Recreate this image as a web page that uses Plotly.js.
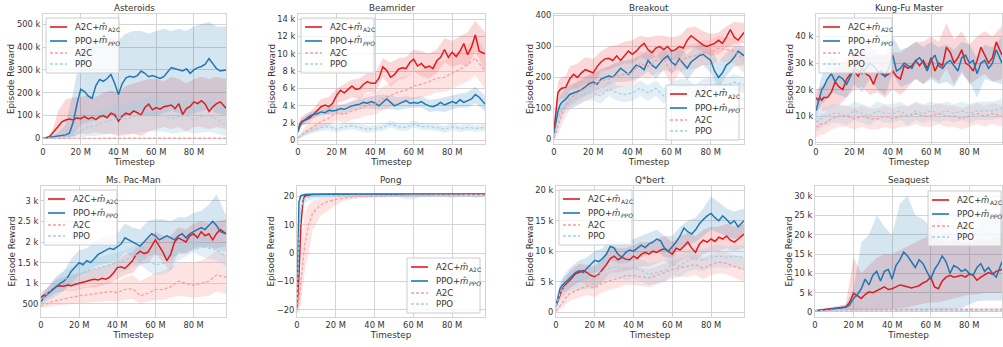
<!DOCTYPE html>
<html><head><meta charset="utf-8">
<script src="https://cdn.plot.ly/plotly-3.0.1.min.js"></script>
<style>html,body{margin:0;padding:0;background:#fff;} #chart{width:1003px;height:347px;}</style>
</head><body><div id="chart"></div>
<script>
// ---------------- DATA ----------------
const X_FINE = [0,1,2,3,4,6,8,10,12,14,16,18,20,22,24,26,28,30,32,34,36,38,40,42,44,46,48,50,52,54,56,58,60,62,64,66,68,70,72,74,76,78,80,82,84,86,88,90,92,94,97];
const X_COARSE = [0,1,2,3,4,6,8,12,16,20,24,28,32,36,40,44,48,52,56,60,64,68,72,76,80,84,88,92,97];
const X_TICKS = [0,20,40,60,80];
const X_TICK_LABELS = ['0','20 M','40 M','60 M','80 M'];
const GAME_TITLES = ['Asteroids','Beamrider','Breakout','Kung-Fu Master','Ms. Pac-Man','Pong','Q*bert','Seaquest'];
// legend labels: main part, italic hatted symbol, subscript
const SERIES_LABEL_MAIN = ['A2C+','PPO+','A2C','PPO'];
const SERIES_LABEL_HAT = ['m\u0302','m\u0302','',''];
const SERIES_LABEL_SUB = ['A2C','PPO','',''];

// Asteroids (thousands)
const asteroids_a2cm = [0,1,3,6,12,30,52,72,80,84,80,90,86,95,85,92,82,95,100,90,110,104,74,98,110,104,120,112,102,135,150,125,135,128,138,142,146,130,152,104,130,140,160,152,165,150,118,138,152,160,132];
const asteroids_ppom = [0,1,2,3,4,7,10,12,15,22,70,150,215,205,185,175,230,258,250,262,280,240,192,240,265,272,268,275,295,285,270,275,268,262,270,290,310,305,300,295,305,285,300,310,315,325,350,330,305,295,300];
const asteroids_a2cm_hi = [1,2,5,10,20,60,120,170,180,180,190,180,200,210,200,230,240,250,260,260,250,270,260,240,260,270,260,270,260];
const asteroids_a2cm_lo = [0,0,0,0,0,2,5,5,8,20,20,25,20,20,10,15,20,10,30,40,50,40,50,30,50,50,40,50,40];
const asteroids_ppom_hi = [2,3,5,8,10,15,25,60,200,380,420,440,440,450,430,460,470,470,460,470,480,470,480,470,490,500,510,490,490];
const asteroids_ppom_lo = [0,0,0,0,0,2,4,5,10,60,70,80,90,100,80,100,110,110,100,100,110,120,110,100,110,120,130,110,100];
const asteroids_a2c = [0,0,0,0,0,0,1,1,1,1,1,1,1,1,1,1,1,1,1,1,1,1,1,1,1,1,1,1,1];
const asteroids_a2c_hi = [0,0,1,1,1,1,2,3,3,3,3,3,3,3,3,3,3,3,3,3,3,3,3,3,3,3,3,3,3];
const asteroids_a2c_lo = [0,0,0,0,0,0,0,0,0,0,0,0,0,0,0,0,0,0,0,0,0,0,0,0,0,0,0,0,0];
const asteroids_ppo = [0,0,0,1,1,2,3,5,10,30,50,55,70,80,90,85,95,100,110,110,100,85,95,100,80,95,100,85,55];
const asteroids_ppo_hi = [0,1,1,2,3,5,8,15,30,70,100,110,130,140,150,150,160,170,180,180,170,160,170,170,160,170,170,160,130];
const asteroids_ppo_lo = [0,0,0,0,0,0,0,0,0,5,10,10,15,20,20,20,20,25,30,30,30,20,25,30,20,25,30,20,10];
const ASTEROIDS_Y_TICKS = [0,100,200,300,400,500];
const ASTEROIDS_Y_LABELS = ['0','100 k','200 k','300 k','400 k','500 k'];

// Beamrider (thousands)
const beamrider_a2cm = [1.2,1.9,2.2,2.3,2.4,2.6,3.0,3.5,3.9,4.1,3.9,4.3,5.2,5.8,5.5,5.9,6.3,5.9,6.0,6.5,6.8,6.6,6.6,7.2,8.5,8.1,7.3,7.6,8.2,8.4,8.3,9.0,9.4,8.6,8.9,8.4,8.6,8.3,9.2,9.6,10.5,9.6,10.2,9.7,10.3,11.2,9.9,10.8,12.2,10.3,10.0];
const beamrider_ppom = [1.0,1.7,2.1,2.3,2.5,2.8,3.0,3.1,3.3,3.2,3.5,3.4,3.5,3.7,3.6,3.8,4.0,4.1,4.2,4.4,4.3,4.5,4.3,4.0,4.4,4.8,4.4,4.0,4.2,4.4,4.6,4.3,4.4,4.3,4.5,4.2,4.0,3.9,4.1,4.4,4.1,4.3,4.5,4.3,4.7,4.4,4.6,4.8,5.3,5.0,4.2];
const beamrider_a2cm_hi = [1.6,2.5,2.8,3.0,3.1,3.3,3.7,4.8,5.0,6.0,6.5,7.0,7.2,7.8,7.8,9.5,9.0,9.5,9.6,10.5,10.3,10.0,10.5,11.8,11.5,12.0,12.5,13.8,12.5];
const beamrider_a2cm_lo = [0.8,1.4,1.7,1.8,1.8,2.0,2.4,3.2,3.0,4.3,4.6,5.0,4.8,5.6,5.5,7.3,6.2,7.0,7.2,8.0,7.4,7.2,7.8,9.0,8.5,8.8,8.5,10.3,8.0];
const beamrider_ppom_hi = [1.3,2.1,2.5,2.7,2.9,3.2,3.4,3.7,3.9,4.0,4.2,4.5,4.8,5.0,5.2,5.3,5.2,5.0,5.1,5.0,5.1,4.7,4.8,5.0,5.2,5.4,5.6,6.2,5.2];
const beamrider_ppom_lo = [0.7,1.3,1.7,1.9,2.1,2.4,2.6,2.9,3.0,3.0,3.1,3.5,3.6,3.7,3.6,3.6,3.6,3.5,3.7,3.8,3.8,3.3,3.4,3.3,3.6,3.8,3.8,4.3,3.4];
const beamrider_a2c = [0.3,0.5,0.7,0.9,1.0,1.3,1.6,2.2,2.6,3.2,3.0,3.4,3.7,4.1,4.2,4.8,5.2,5.6,5.8,6.3,6.5,6.8,7.2,7.3,7.8,8.2,8.8,9.5,8.0];
const beamrider_a2c_hi = [0.5,0.8,1.1,1.4,1.6,2.0,2.4,3.2,3.6,4.2,4.2,4.6,5.0,5.4,5.6,6.2,6.6,7.2,7.4,8.0,8.2,8.6,9.0,9.2,9.8,10.2,11.0,12.0,10.5];
const beamrider_a2c_lo = [0.1,0.3,0.4,0.5,0.6,0.8,1.0,1.4,1.8,2.3,2.0,2.4,2.6,2.9,3.0,3.5,3.9,4.2,4.4,4.8,5.0,5.2,5.6,5.6,6.0,6.4,6.8,7.5,6.0];
const beamrider_ppo = [0.3,0.5,0.6,0.8,0.9,1.1,1.3,1.5,1.6,1.3,1.6,1.7,1.5,1.3,1.4,1.5,1.9,1.6,1.5,1.9,1.6,1.6,1.5,1.3,1.6,1.4,1.5,1.4,1.5];
const beamrider_ppo_hi = [0.4,0.7,0.8,1.0,1.2,1.4,1.7,1.9,2.0,1.7,2.0,2.1,1.9,1.7,1.8,1.9,2.3,2.0,1.9,2.3,2.0,2.0,1.9,1.7,2.0,1.8,1.9,1.8,1.9];
const beamrider_ppo_lo = [0.2,0.3,0.4,0.6,0.6,0.8,0.9,1.1,1.2,0.9,1.2,1.3,1.1,0.9,1.0,1.1,1.5,1.2,1.1,1.5,1.2,1.2,1.1,0.9,1.2,1.0,1.1,1.0,1.1];
const BEAMRIDER_Y_TICKS = [0,2,4,6,8,10,12,14];
const BEAMRIDER_Y_LABELS = ['0','2 k','4 k','6 k','8 k','10 k','12 k','14 k'];

// Breakout
const breakout_a2cm = [30,90,150,160,165,168,195,210,200,215,225,220,215,235,250,260,262,255,270,255,270,285,275,285,300,310,290,280,295,300,290,300,285,290,300,295,320,335,325,315,305,300,305,310,320,310,330,355,330,320,345];
const breakout_ppom = [20,60,90,110,120,130,145,150,155,160,170,180,185,178,195,200,205,200,215,230,220,210,225,240,235,225,255,240,230,245,260,270,250,240,260,245,230,250,260,270,275,265,255,220,200,215,240,250,265,285,270];
const breakout_a2cm_hi = [45,120,185,195,200,205,235,245,265,260,285,300,305,315,320,335,330,335,335,330,335,360,365,350,340,345,365,380,375];
const breakout_a2cm_lo = [15,60,115,125,130,135,160,165,180,175,220,225,235,245,245,265,255,265,260,255,260,290,295,280,270,275,295,310,310];
const breakout_ppom_hi = [30,80,115,140,150,165,175,185,200,215,225,235,250,255,260,270,290,265,295,285,295,275,300,310,295,250,280,300,300];
const breakout_ppom_lo = [10,40,65,80,90,100,110,125,140,155,165,175,185,185,190,200,220,195,225,215,225,190,225,240,215,165,205,235,240];
const breakout_a2c = [5,20,40,60,80,110,130,150,165,175,190,195,205,210,215,245,235,255,260,215,255,265,270,280,280,295,290,285,255];
const breakout_a2c_hi = [10,40,70,95,115,145,165,190,205,215,230,235,245,250,255,285,275,295,300,255,295,305,310,320,320,335,330,325,295];
const breakout_a2c_lo = [0,5,15,30,45,75,95,110,125,135,150,155,165,170,175,205,195,215,220,175,215,225,230,240,240,255,250,245,215];
const breakout_ppo = [10,40,65,80,95,110,120,135,150,150,140,165,150,145,150,165,150,165,140,160,170,170,150,170,175,180,175,185,175];
const breakout_ppo_hi = [20,60,85,100,115,130,145,160,175,175,165,190,175,170,175,190,175,190,165,185,195,195,175,195,200,205,200,210,200];
const breakout_ppo_lo = [0,20,45,60,75,90,95,110,125,125,115,140,125,120,125,140,125,140,115,135,145,145,125,145,150,155,150,160,150];
const BREAKOUT_Y_TICKS = [0,100,200,300,400];
const BREAKOUT_Y_LABELS = ['0','100','200','300','400'];

// Kung-Fu Master (thousands)
const kungfu_a2cm = [17,16,17,16,17,17,19,23,21,20,24,26,27,25,28,26,25,22,26,27,25,26,27,25,24,29,28,29,31,29,31,28,32,27,30,29,36,34,30,32,35,30,29,27,31,36,33,30,32,38,33];
const kungfu_ppom = [12,15,18,20,21,24,26,23,25,24,22,25,28,27,26,28,30,29,27,26,25,28,33,27,28,30,29,28,31,32,30,27,31,33,29,28,30,31,29,27,32,33,30,31,26,30,31,28,30,35,30];
const kungfu_a2cm_hi = [20,20,21,21,22,23,26,29,32,34,35,32,33,33,34,34,36,38,38,40,38,45,39,42,37,40,42,40,44];
const kungfu_a2cm_lo = [13,12,13,12,12,12,13,14,17,20,21,18,19,17,20,18,21,24,22,25,23,28,22,27,22,24,26,23,24];
const kungfu_ppom_hi = [15,19,23,25,27,30,33,30,28,34,33,37,33,33,40,35,36,38,36,38,36,37,35,38,37,32,37,36,40];
const kungfu_ppom_lo = [9,11,13,15,15,17,19,18,17,22,19,24,20,18,26,21,22,24,22,24,22,23,21,26,23,17,24,23,22];
const kungfu_a2c = [6,6,7,7,7,8,9,10,10,9,10,9,9,10,9,10,10,11,10,10,11,10,10,9,10,11,10,11,10];
const kungfu_a2c_hi = [10,10,11,11,11,12,13,14,14,13,14,13,13,14,13,14,14,15,14,14,15,14,14,13,14,15,14,15,14];
const kungfu_a2c_lo = [2,2,3,3,3,4,5,6,6,5,6,5,5,6,5,6,6,7,6,6,7,6,6,5,6,7,6,7,6];
const kungfu_ppo = [8,8,9,9,10,10,11,11,10,12,11,10,12,11,11,12,10,12,11,12,11,12,11,12,11,12,12,12,13];
const kungfu_ppo_hi = [11.5,11.5,12.5,12.5,13.5,13.5,14.5,14.5,13.5,15.5,14.5,13.5,15.5,14.5,14.5,15.5,13.5,15.5,14.5,15.5,14.5,15.5,14.5,15.5,14.5,15.5,15.5,15.5,16.5];
const kungfu_ppo_lo = [4.5,4.5,5.5,5.5,6.5,6.5,7.5,7.5,6.5,8.5,7.5,6.5,8.5,7.5,7.5,8.5,6.5,8.5,7.5,8.5,7.5,8.5,7.5,8.5,7.5,8.5,8.5,8.5,9.5];
const KUNGFU_Y_TICKS = [0,10,20,30,40];
const KUNGFU_Y_LABELS = ['0','10 k','20 k','30 k','40 k'];

// Ms. Pac-Man
const mspacman_a2cm = [650,700,720,740,780,850,920,940,930,960,940,980,1000,1020,1050,1080,1100,1080,1120,1100,1150,1250,1380,1400,1360,1450,1550,1700,1780,1720,1750,1900,2050,1900,1750,1550,1700,2000,2100,2050,2000,2150,2200,2100,2250,2150,2200,2050,2200,2300,2200];
const mspacman_ppom = [550,620,680,720,760,850,920,1000,1050,1150,1300,1400,1500,1450,1550,1500,1600,1700,1750,1800,1850,1820,1880,1950,2100,2050,2000,1950,1900,2000,2100,2200,2150,2050,2100,2150,2100,2050,2150,2200,2100,2200,2250,2300,2350,2300,2400,2500,2400,2250,2200];
const mspacman_a2cm_hi = [750,820,850,880,920,1000,1080,1150,1200,1250,1280,1350,1400,1450,1550,1700,1750,1950,2050,2250,2150,2150,2350,2300,2450,2500,2450,2500,2550];
const mspacman_a2cm_lo = [550,580,600,620,640,700,760,800,800,850,900,900,950,1000,1100,1200,1250,1450,1500,1700,1500,1300,1750,1700,1850,1900,1850,1850,1900];
const mspacman_ppom_hi = [650,750,820,870,920,1050,1150,1300,1600,1800,1850,2000,2100,2150,2200,2450,2350,2300,2500,2550,2550,2500,2600,2600,2700,2750,2900,3150,2650];
const mspacman_ppom_lo = [450,500,540,570,600,650,700,800,1000,1200,1250,1400,1450,1500,1550,1750,1650,1500,1650,1700,1650,1600,1700,1750,1800,1850,1900,1800,1750];
const mspacman_a2c = [450,470,490,510,530,560,580,620,650,700,720,750,780,800,780,850,870,700,760,850,850,920,1050,1000,950,1000,1050,1200,1150];
const mspacman_a2c_hi = [500,550,580,610,640,680,720,780,820,880,920,960,1000,1050,1050,1150,1200,1050,1150,1250,1300,1400,1500,1500,1500,1550,1650,1800,1700];
const mspacman_a2c_lo = [400,410,420,430,440,460,470,490,500,520,530,540,560,580,560,600,620,520,560,600,600,650,700,680,650,680,700,800,750];
const mspacman_ppo = [500,600,680,750,800,900,980,1100,1150,1200,1300,1350,1400,1450,1500,1550,1650,1700,1550,1450,1480,1550,1800,1900,2000,1900,1850,1800,1650];
const mspacman_ppo_hi = [560,700,800,880,950,1050,1150,1300,1400,1450,1550,1600,1650,1700,1750,1800,1900,1950,1800,1700,1750,1800,2050,2150,2250,2150,2100,2050,1900];
const mspacman_ppo_lo = [440,500,560,620,650,750,810,900,900,950,1050,1100,1150,1200,1250,1300,1400,1450,1300,1200,1210,1300,1550,1650,1750,1650,1600,1550,1400];
const MSPACMAN_Y_TICKS = [500,1000,1500,2000,2500,3000];
const MSPACMAN_Y_LABELS = ['500','1 k','1.5 k','2 k','2.5 k','3 k'];

// Pong
const pong_a2cm = [-20,-8,10,18,20.3,20.6,20.7,20.7,20.8,20.8,20.8,20.8,20.8,20.8,20.8,20.8,20.8,20.8,20.8,20.8,20.8,20.8,20.8,20.8,20.8,20.8,20.8,20.8,20.8,20.8,20.8,20.8,20.8,20.8,20.8,20.8,20.8,20.8,20.8,20.8,20.8,20.8,20.8,20.8,20.8,20.8,20.8,20.8,20.8,20.8,20.8];
const pong_ppom = [-19,18,20.3,20.6,20.7,20.8,20.8,20.9,20.9,20.9,20.9,20.9,20.9,20.9,20.9,20.9,20.9,20.9,20.9,20.9,20.9,20.9,20.9,20.9,20.9,20.9,20.9,20.9,20.9,20.9,20.9,20.9,20.9,20.9,20.9,20.9,20.9,20.9,20.9,20.9,20.9,20.9,20.9,20.9,20.9,20.9,20.9,20.9,20.9,20.9,20.9];
const pong_a2cm_hi = [-19,-4,14,20,20.8,21,21,21,21,21,21,21,21,21,21,21,21,21,21,21,21,21,21,21,21,21,21,21,21];
const pong_a2cm_lo = [-21,-12,5,15,19.5,20.2,20.4,20.5,20.5,20.5,20.5,20.5,20.5,20.5,20.5,20.5,20.5,20.5,20.5,20.5,20.5,20.5,20.5,20.5,20.5,20.5,20.5,20.5,20.5];
const pong_ppom_hi = [-17,20,20.8,21,21,21,21,21,21,21,21,21,21,21,21,21,21,21,21,21,21,21,21,21,21,21,21,21,21];
const pong_ppom_lo = [-21,15,19.5,20.2,20.4,20.5,20.5,20.6,20.6,20.6,20.6,20.6,20.6,20.6,20.6,20.6,20.6,20.6,20.6,20.6,20.6,20.6,20.6,20.6,20.6,20.6,20.6,20.6,20.6];
const pong_a2c = [-20,-17,-10,-3,3,10,14,17,18.3,19,19.5,19.8,20,20.1,20.2,20.3,20.3,20.4,20.4,20.5,20.5,20.5,20.6,20.6,20.6,20.6,20.6,20.6,20.7];
const pong_a2c_hi = [-19,-12,-2,8,14,17,18.5,19.5,20,20.3,20.5,20.6,20.7,20.7,20.8,20.8,20.8,20.9,20.9,20.9,20.9,20.9,21,21,21,21,21,21,21];
const pong_a2c_lo = [-21,-21,-18,-12,-6,0,8,13,15,17,18.5,19,19.5,19.6,19.7,19.8,19.8,19.9,19.9,20,20,20,20.1,20.1,20.1,20.1,20.1,20.1,20.2];
const pong_ppo = [-20,5,15,18,19.3,19.8,20,20.2,20.3,20.3,20.4,20.4,20.4,20.4,20.4,20.4,20.4,20.4,20.2,20.2,20.4,20.4,20.4,20.4,20.4,20.4,20.4,20.4,20.4];
const pong_ppo_hi = [-18,12,19,20,20.5,20.7,20.8,20.8,20.9,20.9,20.9,20.9,20.9,20.9,20.9,20.9,20.9,20.9,20.9,20.9,20.9,20.9,20.9,20.9,20.9,20.9,20.9,20.9,20.9];
const pong_ppo_lo = [-21,-5,10,15,17.5,18.5,19,19.5,19.7,19.8,19.8,19.8,19.8,19.8,19.8,19.8,19.8,19.8,19,19,19.8,19.8,19.8,19.8,19.5,19.8,19.8,19.5,19.8];
const PONG_Y_TICKS = [-20,-10,0,10,20];
const PONG_Y_LABELS = ['\u221220','\u221210','0','10','20'];

// Q*bert (thousands)
const qbert_a2cm = [1.0,2.0,3.0,3.6,4.2,4.8,5.5,6.3,6.6,6.8,6.5,6.0,5.8,6.2,7.0,7.8,8.8,9.2,8.6,9.0,8.7,8.6,9.2,8.8,9.5,9.8,9.5,10.0,9.8,10.2,10.4,10.0,9.5,10.5,10.2,10.8,11.5,10.5,9.8,11.2,11.8,11.5,12.0,11.6,12.3,12.0,12.5,11.8,11.5,12.0,12.8];
const qbert_ppom = [1.0,2.5,3.8,4.3,4.6,5.2,5.8,6.5,6.8,6.5,7.2,7.8,8.5,8.3,8.8,9.5,10.8,10.5,9.5,9.0,9.8,10.2,10.0,10.5,11.0,10.6,11.2,11.5,12.0,11.7,10.5,10.0,10.8,11.5,12.5,13.8,13.2,12.8,13.5,14.5,15.2,15.8,16.2,15.5,15.0,15.8,15.2,14.5,15.0,14.0,15.0];
const qbert_a2cm_hi = [1.5,2.8,4.0,4.8,5.5,6.2,7.0,8.0,7.8,7.5,9.0,11.0,10.5,10.5,11.0,11.5,11.5,12.0,12.5,11.5,12.5,13.0,12.5,13.5,14.0,14.0,14.5,14.0,14.5];
const qbert_a2cm_lo = [0.5,1.2,2.0,2.5,3.0,3.5,4.0,5.0,4.5,4.2,5.0,6.5,6.5,6.8,7.0,7.5,7.5,8.0,8.5,7.5,8.5,9.0,8.5,9.5,10.0,10.0,10.5,10.0,10.5];
const qbert_ppom_hi = [1.5,3.5,4.8,5.5,6.0,6.8,7.5,8.5,9.0,10.0,10.5,12.0,11.5,11.5,12.0,12.5,13.0,13.5,12.5,12.5,14.0,15.0,15.5,17.0,19.0,18.0,17.0,16.5,17.0];
const qbert_ppom_lo = [0.5,1.5,2.8,3.2,3.5,3.8,4.2,5.0,5.5,6.5,7.0,8.5,8.0,8.0,8.5,9.0,9.5,10.0,9.0,9.0,10.5,11.0,11.5,12.5,13.5,13.0,12.5,12.0,12.5];
const qbert_a2c = [0.2,0.5,1.0,1.5,2.0,2.8,3.2,3.8,4.3,4.0,4.8,5.2,5.5,6.0,6.0,5.8,5.6,6.0,6.5,7.0,7.3,7.5,7.8,7.2,7.8,8.2,8.0,7.5,7.0];
const qbert_a2c_hi = [0.5,1.0,1.8,2.5,3.2,4.0,4.6,5.2,5.8,5.5,6.3,6.7,7.0,7.5,7.5,7.3,7.1,7.5,8.0,8.5,8.8,9.2,9.5,9.0,9.5,10.0,9.8,9.3,9.0];
const qbert_a2c_lo = [0,0.2,0.4,0.7,1.0,1.6,2.0,2.4,2.8,2.5,3.3,3.7,4.0,4.5,4.5,4.3,4.1,4.5,5.0,5.5,5.8,5.8,6.1,5.4,6.1,6.4,6.2,5.7,5.0];
const qbert_ppo = [1.0,2.0,3.0,3.5,4.0,4.6,5.0,5.3,5.5,5.5,6.8,7.2,7.5,7.0,7.3,6.8,6.2,6.5,6.8,7.8,7.6,8.5,8.8,8.5,9.0,9.2,9.0,9.2,9.0];
const qbert_ppo_hi = [1.5,3.0,4.2,4.8,5.4,6.0,6.5,7.0,7.2,7.2,8.5,9.0,9.3,8.8,9.1,8.6,8.0,8.3,8.6,9.6,9.4,10.3,10.6,10.3,10.8,11.0,10.8,11.0,11.0];
const qbert_ppo_lo = [0.5,1.0,1.8,2.2,2.6,3.2,3.5,3.6,3.8,3.8,5.1,5.4,5.7,5.2,5.5,5.0,4.4,4.7,5.0,6.0,5.8,6.7,7.0,6.7,7.2,7.4,7.2,7.4,7.0];
const QBERT_Y_TICKS = [0,5,10,15,20];
const QBERT_Y_LABELS = ['0','5 k','10 k','15 k','20 k'];

// Seaquest (thousands)
const seaquest_a2cm = [0.3,0.4,0.5,0.6,0.6,0.7,0.8,0.9,1.0,1.1,1.3,2.5,4.8,4.2,3.5,4.5,5.2,5.0,5.5,6.2,6.5,5.8,6.0,6.5,7.0,6.8,6.5,6.2,6.5,6.8,7.5,8.0,9.0,6.5,6.0,8.0,9.0,9.5,9.0,9.2,9.5,9.0,9.8,9.5,8.2,9.0,9.5,10.2,9.8,10.5,11.0];
const seaquest_ppom = [0.3,0.3,0.4,0.5,0.5,0.6,0.7,0.8,0.9,1.0,1.2,1.8,3.5,4.5,6.0,8.5,7.0,9.5,10.5,8.0,10.5,11.0,8.5,12.0,13.5,15.5,14.5,13.0,11.5,13.5,12.5,10.5,8.5,11.0,12.5,14.5,13.0,10.0,12.0,11.5,10.5,11.0,10.0,9.5,11.5,12.5,10.5,11.5,10.0,9.0,13.0];
const seaquest_a2cm_hi = [0.5,0.6,0.7,0.8,0.9,1.0,1.2,1.5,2.0,14.0,10.0,12.0,14.0,15.0,15.0,16.0,17.0,18.0,19.0,20.0,19.0,18.0,19.0,18.0,18.0,19.0,18.0,19.0,20.0];
const seaquest_a2cm_lo = [0.1,0.2,0.3,0.3,0.3,0.4,0.4,0.5,0.6,0.5,0.5,0.5,0.5,0.6,0.8,1.0,1.2,1.5,2.0,2.5,2.5,3.0,3.5,4.0,4.5,4.5,5.0,5.0,5.0];
const seaquest_ppom_hi = [0.5,0.5,0.6,0.7,0.8,0.9,1.0,1.3,1.8,6.0,18.0,20.0,25.0,22.0,20.0,28.0,30.0,25.0,24.0,22.0,25.0,22.0,20.0,21.0,20.0,22.0,24.0,25.0,26.0];
const seaquest_ppom_lo = [0.1,0.1,0.2,0.2,0.3,0.3,0.3,0.4,0.5,0.5,0.4,0.4,0.4,0.4,0.4,0.4,0.4,0.5,0.5,0.5,0.5,0.5,0.8,1.0,2.0,2.8,3.0,3.0,3.0];
const seaquest_a2c = [0.3,0.3,0.3,0.4,0.4,0.4,0.5,0.5,0.6,0.7,0.6,0.6,0.6,0.6,0.6,0.6,0.6,0.6,0.6,0.6,0.7,0.7,0.7,0.7,0.7,0.7,0.7,0.7,0.7];
const seaquest_a2c_hi = [0.4,0.5,0.5,0.6,0.6,0.7,0.8,0.9,1.1,1.3,1.0,1.0,1.0,1.0,1.0,1.0,1.0,1.0,1.0,1.0,1.1,1.1,1.1,1.1,1.1,1.1,1.1,1.1,1.1];
const seaquest_a2c_lo = [0.2,0.2,0.2,0.2,0.2,0.2,0.3,0.3,0.3,0.3,0.3,0.3,0.3,0.3,0.3,0.3,0.3,0.3,0.3,0.3,0.4,0.4,0.4,0.4,0.4,0.4,0.4,0.4,0.4];
const seaquest_ppo = [0.2,0.2,0.2,0.2,0.2,0.2,0.2,0.3,0.3,0.3,0.3,0.3,0.3,0.3,0.3,0.3,0.3,0.3,0.3,0.3,0.3,0.3,0.3,0.3,0.3,0.3,0.3,0.3,0.3];
const seaquest_ppo_hi = [0.4,0.4,0.4,0.4,0.4,0.4,0.4,0.5,0.5,0.5,0.5,0.5,0.5,0.5,0.5,0.5,0.5,0.5,0.5,0.5,0.5,0.5,0.5,0.5,0.5,0.5,0.5,0.5,0.5];
const seaquest_ppo_lo = [0.1,0.1,0.1,0.1,0.1,0.1,0.1,0.2,0.2,0.2,0.2,0.2,0.2,0.2,0.2,0.2,0.2,0.2,0.2,0.2,0.2,0.2,0.2,0.2,0.2,0.2,0.2,0.2,0.2];
const SEAQUEST_Y_TICKS = [0,5,10,15,20,25,30];
const SEAQUEST_Y_LABELS = ['0','5 k','10 k','15 k','20 k','25 k','30 k'];

// ---------------- STYLE / LAYOUT ----------------
const W = 1003, H = 347;
const TEXT = '#333333', GRID = '#d4d4d4', FONT = 'DejaVu Sans';
const LINE_COLORS = ['#e31a1c', '#1f78b4', '#fb9a99', '#a6cee3'];
const FILL_COLORS = ['rgba(227,26,28,0.17)', 'rgba(31,120,180,0.19)', 'rgba(251,154,153,0.28)', 'rgba(166,206,227,0.32)'];
const DASHES = ['solid', 'solid', '3px,2px', '3px,2px'];
const WIDTHS = [1.5, 1.5, 1.2, 1.2];
const LEG_FS = 8.5, LEG_SUB_FS = 6.0;

function S(m0,h0,l0,m1,h1,l1,m2,h2,l2,m3,h3,l3){
  return [{m:m0,hi:h0,lo:l0,x:X_FINE},{m:m1,hi:h1,lo:l1,x:X_FINE},{m:m2,hi:h2,lo:l2,x:X_COARSE},{m:m3,hi:h3,lo:l3,x:X_COARSE}];
}
const panels = [
  {title:GAME_TITLES[0], box:[43,226,14,144], yr:[-25,545], yt:ASTEROIDS_Y_TICKS, yl:ASTEROIDS_Y_LABELS, leg:'tl',
   s:S(asteroids_a2cm,asteroids_a2cm_hi,asteroids_a2cm_lo,asteroids_ppom,asteroids_ppom_hi,asteroids_ppom_lo,asteroids_a2c,asteroids_a2c_hi,asteroids_a2c_lo,asteroids_ppo,asteroids_ppo_hi,asteroids_ppo_lo)},
  {title:GAME_TITLES[1], box:[298,485,14,144], yr:[-0.4,14.6], yt:BEAMRIDER_Y_TICKS, yl:BEAMRIDER_Y_LABELS, leg:'tl',
   s:S(beamrider_a2cm,beamrider_a2cm_hi,beamrider_a2cm_lo,beamrider_ppom,beamrider_ppom_hi,beamrider_ppom_lo,beamrider_a2c,beamrider_a2c_hi,beamrider_a2c_lo,beamrider_ppo,beamrider_ppo_hi,beamrider_ppo_lo)},
  {title:GAME_TITLES[2], box:[554,744,14,144], yr:[-15,405], yt:BREAKOUT_Y_TICKS, yl:BREAKOUT_Y_LABELS, leg:'br',
   s:S(breakout_a2cm,breakout_a2cm_hi,breakout_a2cm_lo,breakout_ppom,breakout_ppom_hi,breakout_ppom_lo,breakout_a2c,breakout_a2c_hi,breakout_a2c_lo,breakout_ppo,breakout_ppo_hi,breakout_ppo_lo)},
  {title:GAME_TITLES[3], box:[816,1002,14,144], yr:[-0.5,48.5], yt:KUNGFU_Y_TICKS, yl:KUNGFU_Y_LABELS, leg:'tl',
   s:S(kungfu_a2cm,kungfu_a2cm_hi,kungfu_a2cm_lo,kungfu_ppom,kungfu_ppom_hi,kungfu_ppom_lo,kungfu_a2c,kungfu_a2c_hi,kungfu_a2c_lo,kungfu_ppo,kungfu_ppo_hi,kungfu_ppo_lo)},
  {title:GAME_TITLES[4], box:[41,226,186,317], yr:[185,3355], yt:MSPACMAN_Y_TICKS, yl:MSPACMAN_Y_LABELS, leg:'tl',
   s:S(mspacman_a2cm,mspacman_a2cm_hi,mspacman_a2cm_lo,mspacman_ppom,mspacman_ppom_hi,mspacman_ppom_lo,mspacman_a2c,mspacman_a2c_hi,mspacman_a2c_lo,mspacman_ppo,mspacman_ppo_hi,mspacman_ppo_lo)},
  {title:GAME_TITLES[5], box:[297,485,186,317], yr:[-22.5,23.7], yt:PONG_Y_TICKS, yl:PONG_Y_LABELS, leg:'br',
   s:S(pong_a2cm,pong_a2cm_hi,pong_a2cm_lo,pong_ppom,pong_ppom_hi,pong_ppom_lo,pong_a2c,pong_a2c_hi,pong_a2c_lo,pong_ppo,pong_ppo_hi,pong_ppo_lo)},
  {title:GAME_TITLES[6], box:[556,744,186,317], yr:[-0.8,20.7], yt:QBERT_Y_TICKS, yl:QBERT_Y_LABELS, leg:'tl',
   s:S(qbert_a2cm,qbert_a2cm_hi,qbert_a2cm_lo,qbert_ppom,qbert_ppom_hi,qbert_ppom_lo,qbert_a2c,qbert_a2c_hi,qbert_a2c_lo,qbert_ppo,qbert_ppo_hi,qbert_ppo_lo)},
  {title:GAME_TITLES[7], box:[815,1002,186,317], yr:[-1.3,32.6], yt:SEAQUEST_Y_TICKS, yl:SEAQUEST_Y_LABELS, leg:'tr',
   s:S(seaquest_a2cm,seaquest_a2cm_hi,seaquest_a2cm_lo,seaquest_ppom,seaquest_ppom_hi,seaquest_ppom_lo,seaquest_a2c,seaquest_a2c_hi,seaquest_a2c_lo,seaquest_ppo,seaquest_ppo_hi,seaquest_ppo_lo)}
];

// sanity check of lengths
panels.forEach(p => p.s.forEach((s,k) => {
  if (s.m.length !== s.x.length) throw new Error(p.title+' series '+k+' mean length '+s.m.length);
  if (s.hi.length !== X_COARSE.length || s.lo.length !== X_COARSE.length) throw new Error(p.title+' series '+k+' band length '+s.hi.length+'/'+s.lo.length);
}));

// text measuring for composing the legend labels
const ctx = document.createElement('canvas').getContext('2d');
function textWidth(str, size, italic) {
  ctx.font = (italic ? 'italic ' : '') + size + 'px "DejaVu Sans"';
  return ctx.measureText(str).width;
}

const px = v => v / W;
const py = v => 1 - v / H;

const traces = [];
const layout = {
  width: W, height: H, margin: {l:0, r:0, t:0, b:0},
  paper_bgcolor: '#ffffff', plot_bgcolor: '#ffffff',
  font: {family: FONT, color: TEXT, size: 8.3},
  showlegend: false, shapes: [], annotations: []
};

function ann(x, y, text, size, italic, anchor) {
  return {
    xref: 'paper', yref: 'paper', x: px(x), y: py(y),
    xanchor: anchor || 'left', yanchor: 'middle', showarrow: false,
    text: text, font: {size: size, color: TEXT, family: FONT, style: italic ? 'italic' : 'normal'}
  };
}

panels.forEach((p, i) => {
  const sfx = i === 0 ? '' : String(i + 1);
  const xa = 'x' + sfx, ya = 'y' + sfx;
  const [l, r, t, b] = p.box;
  layout['xaxis' + sfx] = {
    domain: [px(l), px(r)], anchor: ya, range: [0, 97],
    tickmode: 'array', tickvals: X_TICKS, ticktext: X_TICK_LABELS,
    showgrid: true, gridcolor: GRID, gridwidth: 1, zeroline: false,
    showline: true, mirror: true, linecolor: GRID, linewidth: 1, ticks: '',
    tickfont: {size: 8.3, color: TEXT},
    title: {text: 'Timestep', font: {size: 8.8, color: TEXT}, standoff: 2}
  };
  layout['yaxis' + sfx] = {
    domain: [py(b), py(t)], anchor: xa, range: p.yr,
    tickmode: 'array', tickvals: p.yt, ticktext: p.yl,
    showgrid: true, gridcolor: GRID, gridwidth: 1, zeroline: false,
    showline: true, mirror: true, linecolor: GRID, linewidth: 1, ticks: '',
    tickfont: {size: 8.3, color: TEXT},
    title: {text: 'Episode Reward', font: {size: 8.8, color: TEXT}, standoff: 0}
  };
  // bands
  p.s.forEach((s, k) => {
    traces.push({
      type: 'scatter', mode: 'lines', xaxis: xa, yaxis: ya,
      x: X_COARSE.concat(X_COARSE.slice().reverse()),
      y: s.hi.concat(s.lo.slice().reverse()),
      fill: 'toself', fillcolor: FILL_COLORS[k], line: {width: 0, color: 'rgba(0,0,0,0)'},
      hoverinfo: 'skip', showlegend: false
    });
  });
  // mean lines
  p.s.forEach((s, k) => {
    traces.push({
      type: 'scatter', mode: 'lines', xaxis: xa, yaxis: ya,
      x: s.x, y: s.m, name: SERIES_LABEL_MAIN[k] + SERIES_LABEL_HAT[k] + SERIES_LABEL_SUB[k],
      line: {color: LINE_COLORS[k], width: WIDTHS[k], dash: DASHES[k]},
      showlegend: false
    });
  });
  // subplot title
  layout.annotations.push(ann((l + r) / 2, t - 6.5, p.title, 8.8, false, 'center'));
  // legend box (drawn manually to match the compact matplotlib legend)
  const LW = 73, LH = 55;
  let bl, bt;
  if (p.leg === 'tl') { bl = l + 3; bt = t + 4; }
  else if (p.leg === 'br') { bl = r - 5 - LW; bt = b - 4 - LH; }
  else { bl = r - 1 - LW; bt = t + 5; }
  layout.shapes.push({
    type: 'rect', xref: 'paper', yref: 'paper',
    x0: px(bl), x1: px(bl + LW), y0: py(bt + LH), y1: py(bt),
    fillcolor: 'rgba(255,255,255,0.8)', line: {color: '#cccccc', width: 1}, layer: 'above'
  });
  const rows = [9, 23, 35, 46];
  rows.forEach((dy, k) => {
    const yy = bt + dy;
    layout.shapes.push({
      type: 'line', xref: 'paper', yref: 'paper',
      x0: px(bl + 4), x1: px(bl + 21), y0: py(yy), y1: py(yy),
      line: {color: LINE_COLORS[k], width: WIDTHS[k] + 0.1, dash: DASHES[k]}, layer: 'above'
    });
    let xx = bl + 27;
    layout.annotations.push(ann(xx, yy, SERIES_LABEL_MAIN[k], LEG_FS, false));
    xx += textWidth(SERIES_LABEL_MAIN[k], LEG_FS, false);
    if (SERIES_LABEL_HAT[k]) {
      layout.annotations.push(ann(xx, yy - 0.5, SERIES_LABEL_HAT[k], LEG_FS, true));
      xx += textWidth('m', LEG_FS, true) + 0.3;
    }
    if (SERIES_LABEL_SUB[k]) {
      layout.annotations.push(ann(xx, yy + 2.2, SERIES_LABEL_SUB[k], LEG_SUB_FS, k === 1));
    }
  });
});

Plotly.newPlot('chart', traces, layout, {displayModeBar: false, staticPlot: true});
</script></body></html>
